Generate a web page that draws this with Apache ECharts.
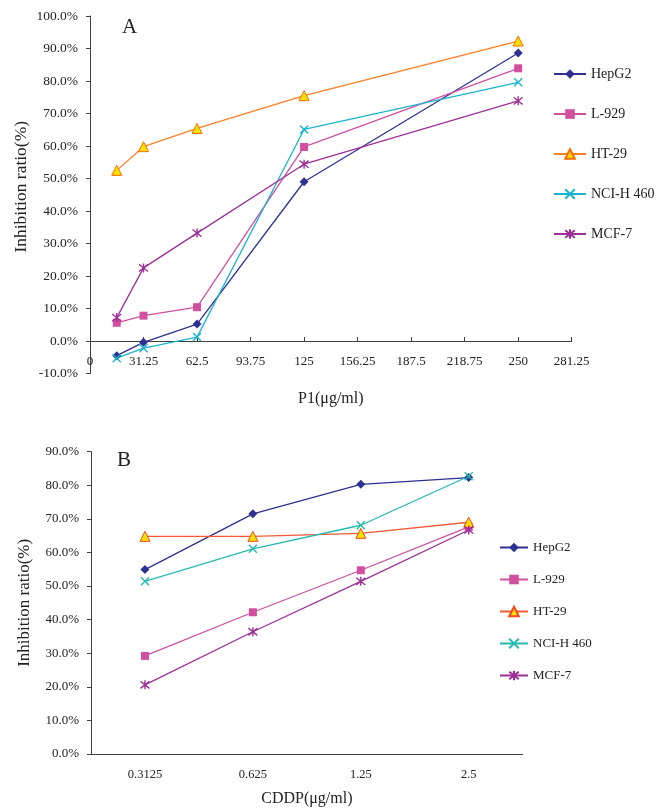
<!DOCTYPE html>
<html><head><meta charset="utf-8">
<script src="https://cdn.jsdelivr.net/npm/echarts@6/dist/echarts.min.js"></script>
<style>html,body{margin:0;padding:0;background:#fff}#c{width:662px;height:810px}</style>
</head><body><div id="c"></div>
<script>
// ---- Data: chart A (P1) ----
const seriesNames = ['HepG2', 'L-929', 'HT-29', 'NCI-H 460', 'MCF-7'];
const doseA = [15.625, 31.25, 62.5, 125, 250];
const hepg2A = [-4.5, -0.4, 5.2, 49.0, 88.6];
const l929A = [5.6, 7.8, 10.4, 59.7, 83.9];
const ht29A = [52.5, 59.8, 65.4, 75.5, 92.3];
const nciA = [-5.3, -2.2, 1.2, 65.1, 79.6];
const mcf7A = [7.2, 22.5, 33.2, 54.4, 73.9];
const xTicksA = { min: 0, max: 281.25, interval: 31.25 };
const yTicksA = { min: -10, max: 100, interval: 10 };

// ---- Data: chart B (CDDP) ----
const doseB = ['0.3125', '0.625', '1.25', '2.5'];
const hepg2B = [54.9, 71.5, 80.3, 82.3];
const l929B = [29.2, 42.2, 54.7, 67.6];
const ht29B = [64.8, 64.8, 65.7, 69.0];
const nciB = [51.4, 61.1, 68.1, 82.7];
const mcf7B = [20.6, 36.4, 51.4, 66.7];
const yTicksB = { min: 0, max: 90, interval: 10 };

const FONT = '"Liberation Serif", "DejaVu Serif", serif';
const TXT = '#222';
const CROSS = 'path://M0,0L10,10M10,0L0,10';
const STAR = 'path://M0,1L10,9M10,1L0,9M5,0L5,10';

const stylesA = [
  { c: '#2E3192', sym: 'diamond', size: 9 },
  { c: '#D0509F', sym: 'rect', size: 8 },
  { c: '#FF7F27', sym: 'triangle', size: 10, fill: '#FFE100', border: '#FF6A00' },
  { c: '#1AB4CE', sym: CROSS, size: 8, stroke: true },
  { c: '#9E2F98', sym: STAR, size: 9, stroke: true }
];
const stylesB = [
  { c: '#2E3192', sym: 'diamond', size: 9 },
  { c: '#D0509F', sym: 'rect', size: 8 },
  { c: '#F25A38', sym: 'triangle', size: 10, fill: '#FFE100', border: '#F04A20' },
  { c: '#26B9B0', sym: CROSS, size: 8, stroke: true },
  { c: '#9E2F98', sym: STAR, size: 9, stroke: true }
];

function mkSeries(name, data, st, idx) {
  const itemStyle = st.fill
    ? { color: st.fill, borderColor: st.border, borderWidth: 1 }
    : st.stroke
      ? { color: st.c, borderColor: st.c, borderWidth: 1.4 }
      : { color: st.c, borderColor: st.c, borderWidth: 0 };
  return {
    name: name, type: 'line', xAxisIndex: idx, yAxisIndex: idx,
    data: data, symbol: st.sym, symbolSize: st.size, showSymbol: true,
    lineStyle: { color: st.c, width: 1.3 },
    itemStyle: itemStyle,
    emphasis: { disabled: true },
    z: 3
  };
}

const valsA = [hepg2A, l929A, ht29A, nciA, mcf7A];
const valsB = [hepg2B, l929B, ht29B, nciB, mcf7B];
const series = [];
seriesNames.forEach((n, i) => {
  series.push(mkSeries(n, doseA.map((d, k) => [d, valsA[i][k]]), stylesA[i], 0));
});
seriesNames.forEach((n, i) => {
  series.push(mkSeries('B:' + n, valsB[i], stylesB[i], 1));
});

const axisLineStyle = { color: '#404040', width: 1 };
const pct = v => v.toFixed(1) + '%';

const option = {
  animation: false,
  backgroundColor: '#fff',
  textStyle: { fontFamily: FONT, color: TXT },
  grid: [
    { left: 90, right: 90.3, top: 16, bottom: 810 - 373.5 },
    { left: 91, right: 662 - 522.7, top: 451.7, bottom: 56 }
  ],
  xAxis: [
    {
      type: 'value', gridIndex: 0, min: xTicksA.min, max: xTicksA.max, interval: xTicksA.interval,
      axisLine: { onZero: true, lineStyle: axisLineStyle },
      axisTick: { inside: true, length: 4, lineStyle: axisLineStyle },
      axisLabel: { margin: -18, fontSize: 13, color: TXT, fontFamily: FONT },
      splitLine: { show: false },
      name: 'P1(μg/ml)', nameLocation: 'middle', nameGap: 17,
      nameTextStyle: { fontSize: 16, color: TXT, fontFamily: FONT }
    },
    {
      type: 'category', gridIndex: 1, data: doseB, boundaryGap: true,
      axisLine: { lineStyle: axisLineStyle },
      axisTick: { inside: true, length: 4, lineStyle: axisLineStyle },
      axisLabel: { margin: 14, fontSize: 12.5, color: TXT, fontFamily: FONT },
      splitLine: { show: false },
      name: 'CDDP(μg/ml)', nameLocation: 'middle', nameGap: 37,
      nameTextStyle: { fontSize: 16, color: TXT, fontFamily: FONT }
    }
  ],
  yAxis: [
    {
      type: 'value', gridIndex: 0, min: yTicksA.min, max: yTicksA.max, interval: yTicksA.interval,
      axisLine: { show: true, lineStyle: axisLineStyle },
      axisTick: { show: true, length: 4, lineStyle: axisLineStyle },
      axisLabel: { margin: 12, fontSize: 13.5, color: TXT, fontFamily: FONT, formatter: pct },
      splitLine: { show: false },
      name: 'Inhibition ratio(%)', nameLocation: 'middle', nameGap: 60, nameMoveOverlap: false,
      nameTextStyle: { fontSize: 17.5, color: TXT, fontFamily: FONT, padding: [0, 0, 0, 16] }
    },
    {
      type: 'value', gridIndex: 1, min: yTicksB.min, max: yTicksB.max, interval: yTicksB.interval,
      axisLine: { show: true, lineStyle: axisLineStyle },
      axisTick: { show: true, length: 4, lineStyle: axisLineStyle },
      axisLabel: { margin: 12, fontSize: 13, color: TXT, fontFamily: FONT, formatter: pct },
      splitLine: { show: false },
      name: 'Inhibition ratio(%)', nameLocation: 'middle', nameGap: 58, nameMoveOverlap: false,
      nameTextStyle: { fontSize: 17, color: TXT, fontFamily: FONT }
    }
  ],
  legend: [
    {
      data: seriesNames, orient: 'vertical', left: 553, top: 67, padding: 0,
      itemWidth: 32, itemHeight: 12, itemGap: 26, selectedMode: false,
      textStyle: { fontSize: 14, lineHeight: 14, color: TXT, fontFamily: FONT }
    },
    {
      data: seriesNames.map(n => 'B:' + n), orient: 'vertical', left: 499, top: 541, padding: 0,
      itemWidth: 28, itemHeight: 12, itemGap: 19, selectedMode: false,
      formatter: n => n.replace('B:', ''),
      textStyle: { fontSize: 13, lineHeight: 13, color: TXT, fontFamily: FONT }
    }
  ],
  graphic: [
    { type: 'text', left: 122, top: 17, style: { text: 'A', font: '21px ' + FONT, fill: TXT } },
    { type: 'text', left: 117, top: 450, style: { text: 'B', font: '21px ' + FONT, fill: TXT } }
  ],
  series: series
};

const chart = echarts.init(document.getElementById('c'), null, { renderer: 'canvas' });
chart.setOption(option);
</script>
</body></html>
